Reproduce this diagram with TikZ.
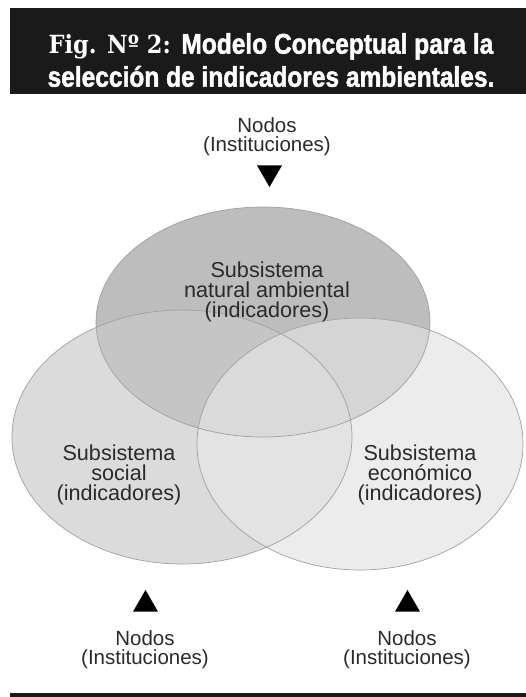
\documentclass[tikz,border=0pt]{standalone}
\usepackage{fontspec}
\setmainfont{Liberation Sans}
\newfontfamily\figfont[FakeStretch=0.9]{DejaVu Serif}
\newfontfamily\headfont[FakeStretch=0.86, FakeBold=1.6]{Liberation Sans}
\usetikzlibrary{shapes.geometric}
\definecolor{topgray}{HTML}{BDBDBD}
\definecolor{leftgray}{HTML}{DBDBDB}
\definecolor{rightgray}{HTML}{ECECEC}
\definecolor{topleftgray}{HTML}{C5C5C5}
\definecolor{toprightgray}{HTML}{D5D5D5}
\definecolor{leftrightgray}{HTML}{E3E3E3}
\definecolor{triplegray}{HTML}{DADADA}
\definecolor{rimgray}{HTML}{A0A0A0}
\definecolor{textgray}{HTML}{2A2A2A}
\definecolor{barblack}{HTML}{1A1A1A}
\newcommand\topzone{(263,322) ellipse [x radius=167, y radius=115]}
\newcommand\leftzone{(182,437) ellipse [x radius=170, y radius=127]}
\newcommand\rightzone{(360,444) ellipse [x radius=163, y radius=126]}
\tikzset{
  label text/.style={font=\fontsize{21.6}{20}\selectfont, text=textgray, align=center, inner sep=0pt},
  nodos text/.style={label text, font=\fontsize{20.5}{19}\selectfont},
  marker/.style={regular polygon, regular polygon sides=3, fill=black, inner sep=0pt, minimum size=28.9pt},
  rim/.style={draw=rimgray, line width=0.7pt}
}
\begin{document}
\begin{tikzpicture}[x=1pt, y=-1pt]
  \useasboundingbox (0,0) rectangle (526,697);
  \fill[barblack] (10,8) rectangle (526,94);
  \fill[barblack] (10,693) rectangle (526,697);
  \node[text=white, align=center, inner sep=0pt, font=\fontsize{28.5}{33}\selectfont] (title) at (271,60)
    {{\figfont\bfseries\fontsize{25}{33}\selectfont Fig. Nº 2:} {\headfont\bfseries Modelo Conceptual para la}\\
     {\headfont\bfseries selección de indicadores ambientales.}};
  \fill[topgray] \topzone;
  \fill[leftgray] \leftzone;
  \fill[rightgray] \rightzone;
  \begin{scope}
    \clip \topzone;
    \fill[topleftgray] \leftzone;
    \fill[toprightgray] \rightzone;
  \end{scope}
  \begin{scope}
    \clip \leftzone;
    \fill[leftrightgray] \rightzone;
  \end{scope}
  \begin{scope}
    \clip \topzone;
    \clip \leftzone;
    \fill[triplegray] \rightzone;
  \end{scope}
  \begin{scope}[rim]
    \draw \topzone;
    \draw \leftzone;
    \draw \rightzone;
  \end{scope}
  \draw
    (267,292) node[label text] (natural) {Subsistema\\natural ambiental\\(indicadores)}
    (119,475) node[label text] (social) {Subsistema\\social\\(indicadores)}
    (420,475) node[label text] (economico) {Subsistema\\económico\\(indicadores)}
    (267,137) node[nodos text] (nodostop) {Nodos\\(Instituciones)}
    (145,650) node[nodos text] (nodosleft) {Nodos\\(Instituciones)}
    (407,650) node[nodos text] (nodosright) {Nodos\\(Instituciones)};
  \draw
    (269.5,172.6) node[marker, shape border rotate=180] (marktop) {}
    (145.5,604.4) node[marker] (markleft) {}
    (407.5,604.4) node[marker] (markright) {};
\end{tikzpicture}
\end{document}
